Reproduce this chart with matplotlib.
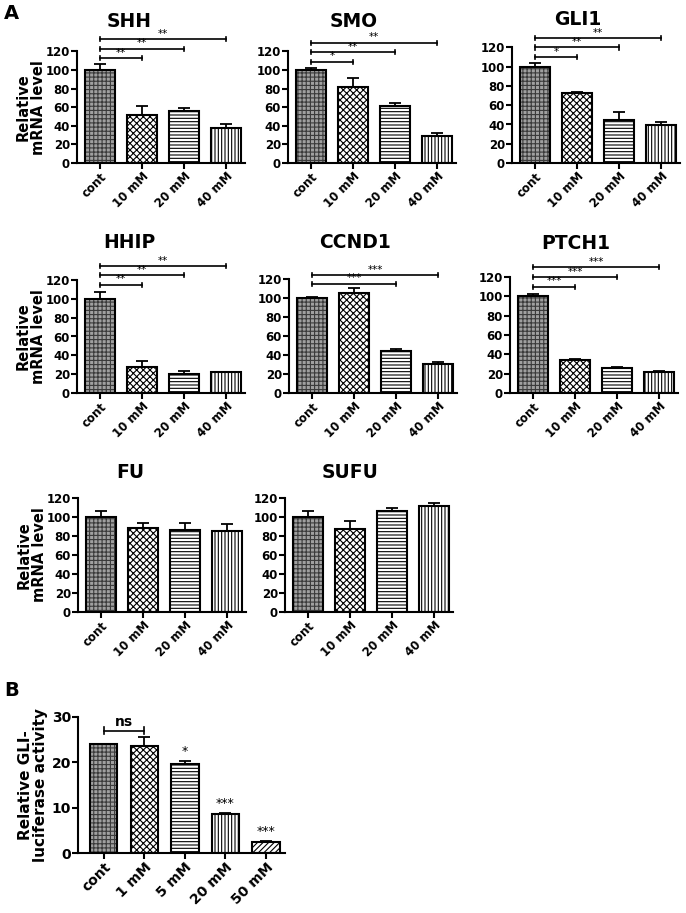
import numpy as np
import matplotlib
matplotlib.use("Agg")
from matplotlib import pyplot as plt

plt.rcParams['font.family'] = 'DejaVu Sans'
plt.rcParams['font.weight'] = 'bold'
plt.rcParams['hatch.linewidth'] = 0.8

groups = ["cont", "10 mM", "20 mM", "40 mM"]

genes = ["SHH", "SMO", "GLI1", "HHIP", "CCND1", "PTCH1", "FU", "SUFU"]
means = {
    "SHH": [100, 52, 55.5, 37.5],
    "SMO": [100, 82, 61, 29.5],
    "GLI1": [100, 72.5, 45, 39],
    "HHIP": [100, 28, 20.5, 22],
    "CCND1": [100, 105, 44, 30],
    "PTCH1": [100, 34, 26, 22],
    "FU": [100, 88, 86, 85.5],
    "SUFU": [100, 87, 106, 112],
}
errors = {
    "SHH": [6.5, 9.5, 4, 4.5],
    "SMO": [2.5, 10, 4, 3],
    "GLI1": [3.5, 0.8, 7.5, 4],
    "HHIP": [7.5, 5.5, 3, 0.4],
    "CCND1": [0.8, 5, 2.5, 2.5],
    "PTCH1": [2.5, 1, 0.5, 0.3],
    "FU": [6.5, 5.5, 7.5, 7.5],
    "SUFU": [6, 8.5, 3, 3],
}
# (target group index, label, bracket height)
brackets = {
    "SHH": [(1, "**", 113), (2, "**", 123), (3, "**", 133)],
    "SMO": [(1, "*", 109), (2, "**", 119.5), (3, "**", 129.5)],
    "GLI1": [(1, "*", 110), (2, "**", 120), (3, "**", 130)],
    "HHIP": [(1, "**", 115), (2, "**", 125), (3, "**", 135)],
    "CCND1": [(2, "***", 115), (3, "***", 124)],
    "PTCH1": [(1, "***", 110), (2, "***", 120), (3, "***", 130)],
    "FU": [],
    "SUFU": [],
}

luc_groups = ["cont", "1 mM", "5 mM", "20 mM", "50 mM"]
luc_means = [24, 23.5, 19.7, 8.7, 2.5]
luc_errors = [0.1, 2.0, 0.7, 0.1, 0.2]
luc_stars = ["", "", "*", "***", "***"]

# face colour, hatch colour, hatch
STYLES = [
    ("#a0a0a0", "#3a3a3a", "++++"),
    ("white", "black", "xxxxx"),
    ("white", "black", "-----"),
    ("white", "black", "|||||"),
    ("white", "black", "//////"),
]

W, H = 686, 913


def px_axes(fig, left, y0, y_top, right):
    return fig.add_axes([left / W, 1 - y0 / H, (right - left) / W, (y0 - y_top) / H])


def draw_bars(ax, labels, vals, errs, width, tick_size):
    x = np.arange(len(vals))
    for i in range(len(vals)):
        face, hcol, hatch = STYLES[i]
        ax.bar(x[i], vals[i], width, color=face, edgecolor=hcol, hatch=hatch, linewidth=0)
        ax.bar(x[i], vals[i], width, fill=False, edgecolor="black", linewidth=1.5)
    ax.errorbar(x, vals, yerr=[np.zeros(len(errs)), errs], fmt="none", ecolor="black",
                elinewidth=1.3, capsize=4.5, capthick=1.3)
    ax.spines["top"].set_visible(False)
    ax.spines["right"].set_visible(False)
    ax.spines["left"].set_linewidth(1.5)
    ax.spines["bottom"].set_linewidth(1.5)
    ax.tick_params(width=1.5, length=4, labelsize=tick_size, pad=1)
    ax.set_xticks(x)
    ax.set_xticklabels(labels, rotation=45, ha="right", rotation_mode="anchor", fontweight="bold")
    for lab in ax.get_yticklabels():
        lab.set_fontweight("bold")


def draw_bracket(ax, x0, x1, h, text, tick=2.2, size=7.5):
    ax.plot([x0, x1], [h, h], color="black", lw=1.2, clip_on=False)
    ax.plot([x0, x0], [h - tick, h + tick], color="black", lw=1.2, clip_on=False)
    ax.plot([x1, x1], [h - tick, h + tick], color="black", lw=1.2, clip_on=False)
    ax.text((x0 + x1) / 2, h + 0.3, text, ha="center", va="bottom", fontsize=size,
            fontweight="normal", clip_on=False)


fig = plt.figure(figsize=(W / 100, H / 100), dpi=100)

# left x of y axis, y of zero line, y of 120 line (pixels)
layout = {
    "SHH": (77, 163, 51.5),
    "SMO": (288, 163, 51.5),
    "GLI1": (512, 163, 47.5),
    "HHIP": (77, 393, 280),
    "CCND1": (289, 393, 279),
    "PTCH1": (510, 393, 277),
    "FU": (78, 612, 498),
    "SUFU": (285, 612, 498),
}
title_y = {"SHH": 1.265, "SMO": 1.27, "GLI1": 1.24, "HHIP": 1.33, "CCND1": 1.32,
           "PTCH1": 1.29, "FU": 1.22, "SUFU": 1.22}

for g in genes:
    left, y0, ytop = layout[g]
    ax = px_axes(fig, left, y0, ytop, left + 168)
    draw_bars(ax, groups, means[g], errors[g], 0.71, 8.5)
    ax.set_xlim(-0.55, 3.45)
    ax.set_ylim(0, 120)
    ax.set_yticks(range(0, 121, 20))
    for tgt, lab, h in brackets[g]:
        draw_bracket(ax, 0, tgt, h, lab)
    first_col = left < 100
    ax.text(0.31 if first_col else 0.39, title_y[g], g, transform=ax.transAxes,
            ha="center", va="center", fontsize=13.5, fontweight="bold")
    if first_col:
        ax.set_ylabel("Relative\nmRNA level", fontsize=10.5, fontweight="bold", linespacing=1.0)
        ax.yaxis.set_label_coords(-0.185, 0.5)

# panel B
axb = fig.add_axes([78 / W, 1 - 853 / H, 207 / W, 136 / H])
draw_bars(axb, luc_groups, luc_means, luc_errors, 0.67, 10)
axb.set_xlim(-0.64, 4.47)
axb.set_ylim(0, 30)
axb.set_yticks([0, 10, 20, 30])
draw_bracket(axb, 0, 1, 27, "ns", tick=0.7, size=10)
axb.texts[-1].set_fontweight("bold")
for i, s in enumerate(luc_stars):
    if s:
        axb.text(i, luc_means[i] + luc_errors[i] + 0.6, s, ha="center", va="bottom",
                 fontsize=9, fontweight="normal")
axb.set_ylabel("Relative GLI-\nluciferase activity", fontsize=11, fontweight="bold", linespacing=1.0)
axb.yaxis.set_label_coords(-0.145, 0.5)

fig.text(0.006, 0.985, "A", fontsize=14, fontweight="bold", va="center")
fig.text(0.006, 0.244, "B", fontsize=14, fontweight="bold", va="center")

fig.savefig("out.png", dpi=100)
